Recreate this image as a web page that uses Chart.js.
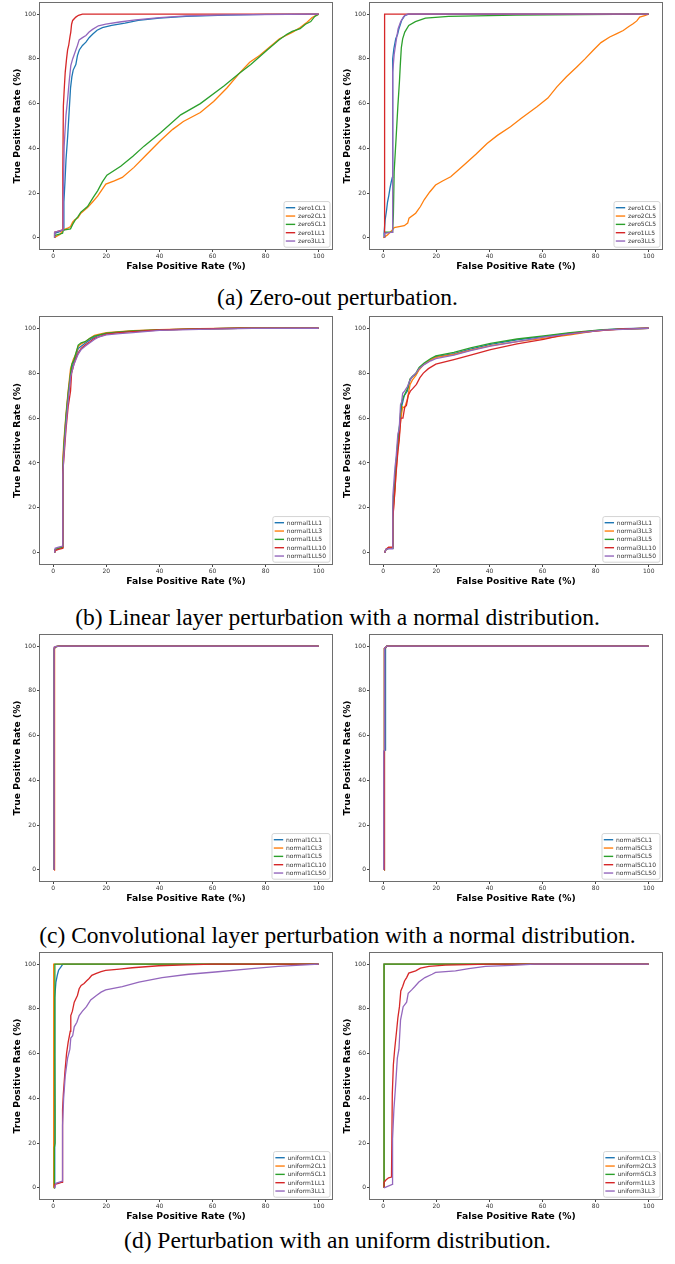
<!DOCTYPE html>
<html><head><meta charset="utf-8">
<script src="https://cdn.jsdelivr.net/npm/chart.js@4/dist/chart.umd.min.js"></script>
<style>
body{margin:0;width:675px;height:1264px;background:#fff;position:relative;overflow:hidden}
.p{position:absolute}
.cap{position:absolute;left:0;width:675px;text-align:center;font-family:"Liberation Serif","DejaVu Serif",serif;font-size:23.5px;color:#000;line-height:24px;white-space:nowrap}
</style></head><body>
<div class="cap" id="capA">(a) Zero-out perturbation.</div>
<div class="cap" id="capB">(b) Linear layer perturbation with a normal distribution.</div>
<div class="cap" id="capC">(c) Convolutional layer perturbation with a normal distribution.</div>
<div class="cap" id="capD">(d) Perturbation with an uniform distribution.</div>
<script>
const xTicks=[0,20,40,60,80,100];
const yTicks=[0,20,40,60,80,100];
const xTitle='False Positive Rate (%)';
const yTitle='True Positive Rate (%)';

// (a) left
const labelsA1=['zero1CL1','zero2CL1','zero5CL1','zero1LL1','zero3LL1'];
const a1_zero1CL1=[[0.5,0],[0.5,2],[2,2.5],[3.8,3.5],[4,16],[4.4,25],[4.8,35],[5.4,45],[6,57],[6.5,67],[7,72],[7.5,75],[8.5,77.5],[9.1,81.5],[9.8,84],[11,86],[12.3,87.5],[13.5,89.5],[14.8,91],[16.5,92.8],[18.5,94],[22,95],[27,96],[32,97.2],[40,98.2],[50,99],[65,99.6],[80,99.9],[100,100]];
const a1_zero2CL1=[[0.5,0],[1,0.5],[2.5,1.5],[3.8,3.6],[5.4,4.3],[6.5,5],[7.3,7],[8,8],[9.3,9],[10.4,11],[12.9,13.5],[14.8,16],[16.7,18.6],[19.8,24],[23,25.5],[26,27],[30.4,31.5],[35,37],[40.4,43.5],[45,48.5],[49,52],[55.4,56],[60.4,61],[65.4,67],[70.4,74],[74,78.5],[77.7,81.5],[85.2,89],[90.2,92],[93,94],[95.2,96],[97.5,98.5],[100,100]];
const a1_zero5CL1=[[0.5,0],[0.5,1],[2,1.5],[3.5,2],[3.8,3.5],[6.5,4],[7.3,6],[8.3,8],[9.3,9.5],[10.4,11.5],[12.9,14],[15,18],[16.7,21],[18.5,25],[20.2,28],[25.4,32],[30,36.5],[34.2,41],[40.4,47],[48,55],[55.4,60],[64.4,68],[70,73.5],[74.4,77.5],[80.6,84],[85,88.5],[88,91],[90,92.3],[93,93.5],[95,95.5],[97,96.7],[98.5,99],[100,100]];
const a1_zero1LL1=[[0.5,0],[0.5,2.5],[2,3],[3.5,3.5],[3.6,30],[3.8,59],[4.2,68],[4.5,74],[5,80],[5.4,84],[5.8,86],[6.3,90],[6.6,92],[6.9,95.5],[7.3,97.2],[8.5,98.7],[9.5,99.5],[11,100],[100,100]];
const a1_zero3LL1=[[0.5,0],[0.5,2.5],[2,3],[3.7,3.5],[3.75,16],[4.1,41],[4.8,55],[5.4,62],[6,70],[6.6,77],[7.3,80],[7.9,82],[8.5,84],[9.1,86],[9.75,88.5],[11,89.5],[12.3,90.5],[13.5,92],[14.8,93.2],[17,94.8],[19.8,95.6],[25,96.5],[31,97.5],[40,98.5],[50,99.2],[65,99.7],[100,100]];

// (a) right
const labelsA2=['zero1CL5','zero2CL5','zero5CL5','zero1LL5','zero3LL5'];
const a2_zero1CL5=[[0.3,0],[0.3,2],[0.7,8],[1.2,12],[1.6,16],[2.1,19],[2.5,22],[3,25],[3.4,27],[3.5,65],[3.6,80],[4,84.6],[4.7,89],[5.4,91],[5.9,93.5],[6.9,97.2],[8.1,99.4],[9.5,100],[100,100]];
const a2_zero2CL5=[[0,0],[1.6,1.3],[3.5,3.6],[4.1,4.6],[6,5],[7.9,5.4],[9.2,6.6],[9.7,8.8],[12.2,11],[14,14],[15.4,17],[17.5,20.5],[19.7,23.6],[22.5,25.5],[25.4,27.3],[30.4,32.6],[35,37.5],[39.1,42.2],[43,45.8],[47.9,49.7],[52,53.5],[57.9,58.6],[62,62.5],[65.4,67.5],[69,72],[72.9,76.4],[76,80],[79.1,83.9],[82,87.3],[85.3,89.8],[88,91.3],[90.4,92.7],[92.5,94.5],[94.1,95.7],[95.5,97],[96.6,98.7],[98.5,99.3],[100,100]];
const a2_zero5CL5=[[0.5,0],[0.5,2.5],[3.5,2.5],[3.8,10],[4.1,29.6],[4.8,44],[5.5,59],[6.1,70],[6.4,77],[6.8,85],[7.3,89],[8.1,92],[9.6,95],[12.1,96.7],[15.9,98.2],[24.6,99],[50,99.6],[100,100]];
const a2_zero1LL5=[[0.5,0],[0.5,100],[100,100]];
const a2_zero3LL5=[[0.5,0],[0.5,2],[3.4,2.5],[3.5,5],[3.6,74],[4.1,82],[4.6,86],[5.1,90],[5.6,93.5],[6.5,96.5],[7.7,99],[9,100],[100,100]];

// (b) left
const labelsB1=['normal1LL1','normal1LL3','normal1LL5','normal1LL10','normal1LL50'];
const b1_normal1LL1=[[0.5,0],[0.7,1.5],[2,2],[3.5,2.5],[3.6,38],[4,46],[4.8,60],[5.6,70],[6.5,79],[6.9,82],[7.8,85.5],[8.5,87.5],[9.4,91],[10.5,92],[12,93.3],[13.8,94.8],[15.5,96],[17,96.8],[20,97.7],[25,98.3],[30,98.7],[40,99.3],[55,99.7],[70,100],[100,100]];
const b1_normal1LL3=[[0.5,0],[0.7,1.5],[2,2],[3.5,2.5],[3.6,42],[4,50],[4.8,62],[5.6,72],[6.5,82],[7.5,86],[8.5,88.5],[9.4,92],[10.5,93],[12,94],[13.8,95.5],[15.5,96.8],[17,97.3],[20,98],[25,98.5],[30,98.9],[40,99.4],[55,99.8],[70,100],[100,100]];
const b1_normal1LL5=[[0.5,0],[0.7,1.5],[2,2],[3.5,2.5],[3.6,38],[4,48],[4.8,61],[5.6,71],[6.5,80],[7,84],[7.8,86],[9.4,92.5],[10.5,93.5],[12,94],[13.8,95.5],[15.5,96.5],[20,97.8],[25,98.4],[30,98.8],[40,99.3],[55,99.7],[70,100],[100,100]];
const b1_normal1LL10=[[0.5,0],[0.7,1],[2,1.5],[3.5,2],[3.6,36],[4,42],[4.8,55],[5.6,65],[6.5,72],[6.9,80],[7.8,84],[8.5,86.5],[9.4,89],[10.5,91],[12,92.5],[13.8,94],[15.5,95.5],[20,97.4],[25,98],[30,98.5],[40,99.2],[55,99.7],[70,100],[100,100]];
const b1_normal1LL50=[[0.5,0],[0.7,2],[2,2.5],[3.5,3],[3.6,35],[4,44],[4.8,57],[5.6,68],[6.5,78],[6.9,80],[7.8,84],[8.5,86],[9.4,88.5],[10.5,90.5],[12,92],[13.8,93.5],[15.5,95],[17,96],[20,97],[25,97.6],[30,98],[40,99],[55,99.5],[75,99.9],[100,100]];

// (b) right
const labelsB2=['normal3LL1','normal3LL3','normal3LL5','normal3LL10','normal3LL50'];
const b2_normal3LL1=[[0.5,0],[1,1.5],[2,2],[3.5,2],[3.6,18],[4.4,30],[4.8,40],[5.5,48],[6,55],[6.5,60],[6.9,65],[7.5,68],[7.9,70],[9.1,72],[10.1,77],[11,78.5],[12.3,79.5],[13.5,82],[15.4,84],[17.9,86],[19.8,87.3],[26.6,88.7],[32.9,90.7],[40.4,92.8],[50.4,94.8],[60.4,96.3],[70.4,97.8],[82.9,99.3],[90,99.8],[100,100]];
const b2_normal3LL3=[[0.5,0],[1,1.5],[2,2.3],[3.5,2.3],[3.6,16],[4.4,28],[4.8,36],[5.5,46],[6,52],[6.5,58],[6.9,62],[7.3,65],[8,64.5],[9,68],[10.1,75],[11,77],[12.3,79],[13.5,81.5],[15.4,84],[17.9,86],[19.8,87],[26.6,88.3],[32.9,90.2],[40.4,92.3],[50.4,94],[60.4,95.5],[70.4,97],[80,98.8],[90,99.6],[100,100]];
const b2_normal3LL5=[[0.5,0],[1,1.5],[2,2],[3.5,2],[3.6,20],[4.4,32],[4.8,40],[5.5,50],[6,55],[6.5,62],[6.9,67],[7.5,69],[7.9,70],[9.1,73],[10.1,77.5],[11,78.5],[12.3,80],[13.5,82.5],[15.4,84.5],[17.9,86.5],[19.8,87.7],[26.6,89.2],[32.9,91.3],[40.4,93.3],[50.4,95.2],[60.4,96.6],[70.4,98],[82.9,99.4],[100,100]];
const b2_normal3LL10=[[0.5,0],[1,1.5],[2,2.5],[3.5,2.5],[3.6,15],[4.4,28],[4.8,35],[5.5,45],[6,50],[6.6,60],[7.4,60],[8.1,65],[8.7,65.5],[9.4,70],[10.2,72],[11,73],[12.5,75],[13.8,78],[15.1,80],[17,82],[19.8,84],[26.6,86],[32.9,88],[40.4,90.5],[50.4,93],[60.4,95],[67.9,97],[75,98.2],[82.9,99],[90,99.7],[100,100]];
const b2_normal3LL50=[[0.5,0],[1,1.5],[2,1.8],[3.5,1.8],[3.6,25],[4.4,38],[4.8,42],[5.5,53],[6,55],[6.5,66],[6.9,67],[7.3,71],[8,72],[9.1,74],[10.1,77],[11,78.5],[12.3,80],[13.5,82],[15.4,83.8],[17.9,85.5],[19.8,86.5],[26.6,88],[32.9,90],[40.4,92],[50.4,94],[60.4,96],[70.4,97.5],[82.9,99.2],[100,100]];

// (c) left
const labelsC1=['normal1CL1','normal1CL3','normal1CL5','normal1CL10','normal1CL50'];
const c1_normal1CL1=[[0.3,0],[0.3,98.5],[0.8,99.6],[2,100],[100,100]];
const c1_normal1CL3=[[0.3,0],[0.3,96],[0.6,96],[0.6,99.3],[1.5,100],[100,100]];
const c1_normal1CL5=[[0.3,0],[0.3,99],[1,99.8],[2,100],[100,100]];
const c1_normal1CL10=[[0.3,0],[0.3,97],[0.5,99.5],[1,99.8],[2.5,100],[100,100]];
const c1_normal1CL50=[[0.3,0],[0.3,99.5],[1,99.9],[3,100],[100,100]];

// (c) right
const labelsC2=['normal5CL1','normal5CL3','normal5CL5','normal5CL10','normal5CL50'];
const c2_normal5CL1=[[0.3,0],[0.3,53],[0.7,53.5],[0.7,98.5],[1,99],[1.2,100],[100,100]];
const c2_normal5CL3=[[0.3,0],[0.3,53],[0.5,53.5],[0.5,99],[1,99.5],[1.3,100],[100,100]];
const c2_normal5CL5=[[0.3,0],[0.3,53],[0.5,53.5],[0.5,99],[1,99.5],[1.3,100],[100,100]];
const c2_normal5CL10=[[0.3,0],[0.3,53],[0.5,53.5],[0.5,99],[1,99.5],[1.3,100],[100,100]];
const c2_normal5CL50=[[0.2,0],[0.2,53],[0.5,53.5],[0.5,99.2],[1,99.6],[1.3,100],[100,100]];

// (d) left
const labelsD1=['uniform1CL1','uniform2CL1','uniform5CL1','uniform1LL1','uniform3LL1'];
const d1_uniform1CL1=[[0.3,0],[0.5,40],[0.6,85],[1,92],[1.5,95],[2,97.3],[2.9,98.8],[3.6,100],[100,100]];
const d1_uniform2CL1=[[0.1,0],[0.1,97],[0.2,100],[100,100]];
const d1_uniform5CL1=[[0.3,0],[0.3,2],[0.5,18],[0.7,20],[0.7,33],[0.6,60],[0.6,100],[100,100]];
const d1_uniform1LL1=[[0.5,0],[0.5,1.5],[2,2],[3.3,2.5],[3.5,35],[3.8,42],[4.4,52],[5,60],[5.6,65],[6.4,70],[6.6,77],[7.2,79],[7.9,83],[9.1,86],[9.75,89],[10.5,90.5],[11.6,91.4],[12.5,92.5],[13.5,93.6],[14.5,95],[16,95.8],[18,96.7],[19.75,97.2],[25,97.8],[29.75,98.4],[39.75,99.3],[50,99.7],[60,100],[100,100]];
const d1_uniform3LL1=[[0.5,0],[1,2],[3.4,3],[3.5,28],[3.9,40],[4.5,50],[5.4,58],[6.25,62],[6.6,67],[7.3,68],[7.9,72],[8.9,74],[9.75,77],[11,79],[12.5,81],[14.1,84],[16.25,86],[18,87.5],[19.75,88.5],[26,90],[32.25,92],[41,94],[51,95.5],[61,96.5],[74.75,98],[84.75,99],[100,100]];

// (d) right
const labelsD2=['uniform1CL3','uniform2CL3','uniform5CL3','uniform1LL3','uniform3LL3'];
const d2_uniform1CL3=[[0.3,0],[0.3,100],[100,100]];
const d2_uniform2CL3=[[0.3,0],[0.3,100],[100,100]];
const d2_uniform5CL3=[[0.3,0],[0.3,100],[100,100]];
const d2_uniform1LL3=[[0.3,0],[0.3,2.5],[1,3.5],[2,4.5],[3.1,4.8],[3.4,42],[3.8,55],[4.3,62],[5,70],[5.5,76],[6.1,81],[6.6,88],[7.3,90],[8,92.5],[8.8,94],[9.6,96],[12.2,97],[14,98.2],[17.2,99],[23.4,99.6],[40,100],[100,100]];
const d2_uniform3LL3=[[0.3,0],[3.4,1.5],[3.5,22],[4,35],[4.6,45],[5.3,58],[5.9,62],[6.5,75],[7.5,81],[8.8,83],[9.4,87],[10.7,88.5],[11.9,90],[13.4,92],[15.7,94],[18.4,95.5],[19.7,96.3],[27.2,97],[32.2,98],[38.5,99],[48.5,99.5],[57,100],[100,100]];

const colors=['#1f77b4','#ff7f0e','#2ca02c','#d62728','#9467bd'];

const panels=[
 {col:0,top:3,bot:249,labels:labelsA1,series:[a1_zero1CL1,a1_zero2CL1,a1_zero5CL1,a1_zero1LL1,a1_zero3LL1]},
 {col:1,top:3,bot:249,labels:labelsA2,series:[a2_zero1CL5,a2_zero2CL5,a2_zero5CL5,a2_zero1LL5,a2_zero3LL5]},
 {col:0,top:317,bot:564,labels:labelsB1,series:[b1_normal1LL1,b1_normal1LL3,b1_normal1LL5,b1_normal1LL10,b1_normal1LL50]},
 {col:1,top:317,bot:564,labels:labelsB2,series:[b2_normal3LL1,b2_normal3LL3,b2_normal3LL5,b2_normal3LL10,b2_normal3LL50]},
 {col:0,top:635,bot:881,labels:labelsC1,series:[c1_normal1CL1,c1_normal1CL3,c1_normal1CL5,c1_normal1CL10,c1_normal1CL50]},
 {col:1,top:635,bot:881,labels:labelsC2,series:[c2_normal5CL1,c2_normal5CL3,c2_normal5CL5,c2_normal5CL10,c2_normal5CL50]},
 {col:0,top:953,bot:1199,labels:labelsD1,series:[d1_uniform1CL1,d1_uniform2CL1,d1_uniform5CL1,d1_uniform1LL1,d1_uniform3LL1]},
 {col:1,top:953,bot:1199,labels:labelsD2,series:[d2_uniform1CL3,d2_uniform2CL3,d2_uniform5CL3,d2_uniform1LL3,d2_uniform3LL3]}
];
const captionY={capA:285,capB:605,capC:923,capD:1228};
for(const k in captionY){document.getElementById(k).style.top=captionY[k]+'px';}

const colGeom=[
 {left:0,width:337,yW:40,padR:5,tPad:12},
 {left:337,width:338,yW:33,padR:13,tPad:4.7}
];

const framePlugin={id:'frame',afterDatasetsDraw(c){
  const a=c.chartArea,ctx=c.ctx;ctx.save();ctx.strokeStyle='#6e6e6e';ctx.lineWidth=1;
  ctx.strokeRect(a.left-0.5,a.top-0.5,a.right-a.left+1,a.bottom-a.top+1);ctx.restore();
}};
const legendPlugin={id:'leg',afterDraw(c){
  const ctx=c.ctx,a=c.chartArea,ds=c.data.datasets;ctx.save();
  ctx.font='6px "DejaVu Sans"';
  let tw=0;ds.forEach(d=>{tw=Math.max(tw,ctx.measureText(d.label).width);});
  const rowH=8.33,pad=2;const w=tw+18,h=ds.length*rowH+pad*2;
  const x1=a.right-2-w,y1=a.bottom-1.8-h;
  ctx.beginPath();
  if(ctx.roundRect)ctx.roundRect(x1,y1,w,h,2);else ctx.rect(x1,y1,w,h);
  ctx.fillStyle='rgba(255,255,255,0.85)';ctx.fill();
  ctx.strokeStyle='#d4d4d4';ctx.lineWidth=1;ctx.stroke();
  ds.forEach((d,i)=>{
    const yy=y1+pad+rowH*(i+0.5);
    ctx.strokeStyle=d.borderColor;ctx.lineWidth=1.4;ctx.beginPath();ctx.moveTo(x1+1.8,yy);ctx.lineTo(x1+11.2,yy);ctx.stroke();
    ctx.fillStyle='#333';ctx.textBaseline='middle';ctx.textAlign='left';ctx.fillText(d.label,x1+14,yy+0.3);
  });
  ctx.restore();
}};

Chart.defaults.font.family='"DejaVu Sans"';
panels.forEach((p,idx)=>{
  const g=colGeom[p.col];
  const ctop=p.top-3;const h=p.bot-p.top+3+31;
  const div=document.createElement('div');div.className='p';
  div.style.left=g.left+'px';div.style.top=ctop+'px';div.style.width=g.width+'px';div.style.height=h+'px';
  const cv=document.createElement('canvas');cv.width=g.width;cv.height=h;cv.style.width=g.width+'px';cv.style.height=h+'px';
  div.appendChild(cv);document.body.appendChild(div);
  const datasets=p.series.map((s,i)=>({label:p.labels[i],data:s.map(([x,y])=>({x,y})),borderColor:colors[i],backgroundColor:colors[i],borderWidth:1.3,pointRadius:0,tension:0,fill:false,order:p.series.length-i}));
  const tickFont={size:6,family:'"DejaVu Sans"'};
  const titleFont={size:9.2,weight:'bold',family:'"DejaVu Sans"'};
  new Chart(cv,{type:'line',data:{datasets},plugins:[framePlugin,legendPlugin],
    options:{responsive:false,animation:false,devicePixelRatio:1,
      layout:{padding:{top:3,right:g.padR,left:0,bottom:0}},
      plugins:{legend:{display:false},tooltip:{enabled:false}},
      scales:{
        x:{type:'linear',min:-5,max:105,
          afterBuildTicks:s=>{s.ticks=xTicks.map(v=>({value:v}));},
          ticks:{font:tickFont,color:'#333',padding:1,maxRotation:0,autoSkip:false},
          grid:{display:true,drawOnChartArea:false,drawTicks:true,tickLength:3,tickColor:'#444',color:'#444'},
          border:{display:false},
          title:{display:true,text:xTitle,font:titleFont,color:'#000',padding:{top:0,bottom:8}},
          afterFit:s=>{s.height=31;s.paddingLeft=0;s.paddingRight=0;}},
        y:{type:'linear',min:-5,max:105,
          afterBuildTicks:s=>{s.ticks=yTicks.map(v=>({value:v}));},
          ticks:{font:tickFont,color:'#333',padding:1,autoSkip:false},
          grid:{display:true,drawOnChartArea:false,drawTicks:true,tickLength:3,tickColor:'#444',color:'#444'},
          border:{display:false},
          title:{display:true,text:yTitle,font:titleFont,color:'#000',padding:{top:g.tPad,bottom:0}},
          afterFit:s=>{s.width=g.yW;s.paddingTop=0;s.paddingBottom=0;}}
      }}});
});
</script>
</body></html>
